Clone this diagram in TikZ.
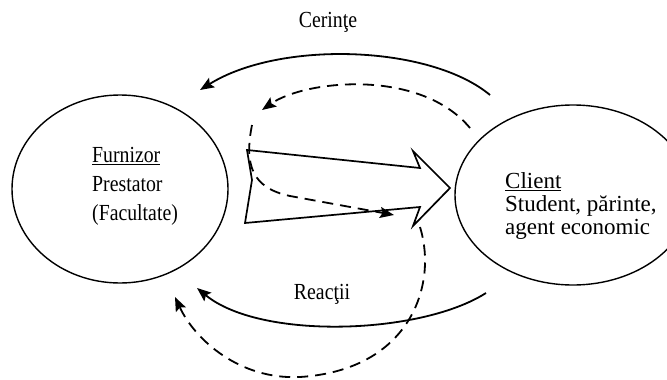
\documentclass[tikz,border=0pt]{standalone}
\usepackage{fontspec}
\setmainfont{Liberation Serif}
\newfontfamily\narrowserif{Liberation Serif}[FakeStretch=0.86]
\usetikzlibrary{positioning,shapes.geometric,arrows.meta}
\tikzset{
  party/.style={ellipse,draw=black,line width=1.4pt,inner sep=0pt},
  flow/.style={draw=black,line width=1.8pt,-{Stealth[length=14pt,width=11pt,inset=2.5pt]}},
  feedback/.style={flow,dash pattern=on 11pt off 7pt},
  bigarrow/.style={draw=black,line width=1.7pt,line join=miter},
  lab/.style={inner sep=0pt,font=\narrowserif\fontsize{23}{26}\selectfont},
  txt/.style={inner sep=0pt,align=left,anchor=north west},
}

\begin{document}
\begin{tikzpicture}[x=1pt,y=-1pt]
\useasboundingbox (0,0) rectangle (667,380);
% the two parties
\node[party,minimum width=216pt,minimum height=188pt] (furn) at (120,189) {};
\node[party,minimum width=236pt,minimum height=180pt] (cli) at (573,195) {};
\node[txt,font=\narrowserif\fontsize{23}{29}\selectfont] (furntxt) at (92,147) {\underline{Furnizor}\\Prestator\\(Facultate)};
\node[txt,font=\fontsize{23}{23}\selectfont] (clitxt) at (505,172) {\underline{Client}\\Student, părinte,\\agent economic};
\node[lab] (cer) at (328,22) {Cerinţe};
\node[lab] (rea) at (322,294) {Reacţii};
% ends of the arcs
\coordinate (ra) at (490,95);
\coordinate (la) at (200,90);
\coordinate (rb) at (470,128);
\coordinate (lb) at (262,110);
\coordinate (lc) at (252,125);
\coordinate (rc) at (394,215);
\coordinate (rd) at (420,227);
\coordinate (bd) at (300,377);
\coordinate (ld) at (175,297);
\coordinate (re) at (486,293);
\coordinate (le) at (197,288);
% service
\draw[bigarrow] (247,150) -- (420,168) -- (413,151) -- (450,188) -- (413,226)
  -- (420,207) -- (245,223) -- (252,180) -- cycle;
% requirements and reactions
\draw[flow] (ra) .. controls (430,45) and (280,40) .. (la);
\draw[feedback] (rb) .. controls (420,68) and (305,80) .. (lb);
\draw[feedback] (lc) .. controls (244,165) and (252,188) .. (290,196) -- (rc);
\draw[feedback] (rd) .. controls (438,285) and (410,370) .. (bd)
  .. controls (240,380) and (195,340) .. (ld);
\draw[flow] (re) .. controls (420,335) and (260,340) .. (le);
\end{tikzpicture}
\end{document}
